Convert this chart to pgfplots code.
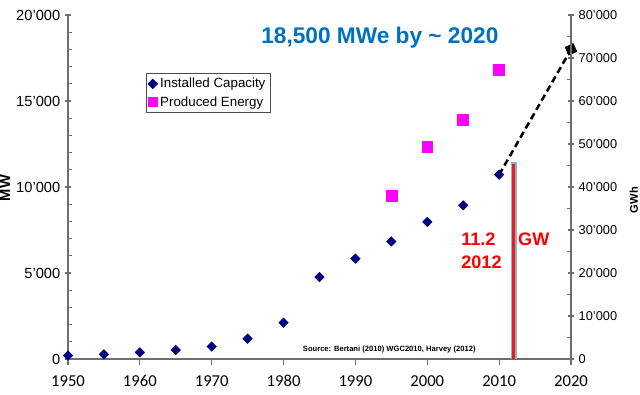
\documentclass[border=0pt]{standalone}
\usepackage{fontspec}
\setmainfont{Liberation Sans}
\newfontfamily\carlito{Carlito}
\usepackage{pgfplots}
\pgfplotsset{compat=1.18}
\definecolor{navyc}{RGB}{0,0,128}
\definecolor{magc}{RGB}{255,0,255}
\definecolor{titleblue}{RGB}{0,112,192}
\definecolor{axgray}{RGB}{110,110,110}
\definecolor{edgeblue}{RGB}{140,180,195}
\definecolor{redline}{RGB}{230,30,35}
\pgfplotsset{mylegimg/.style={legend image code/.code={\draw[mark repeat=1,##1] plot coordinates {(0.13cm,0cm)};}}}
\begin{document}
\begin{tikzpicture}
\path[use as bounding box] (-51pt,-27pt) rectangle (429pt,269.25pt);
\begin{axis}[
  scale only axis, width=377.25pt, height=258pt,
  xmin=1950, xmax=2020, ymin=0, ymax=20000,
  axis x line*=bottom, axis y line*=left,
  axis line style={axgray, line width=0.8pt},
  clip=false,
  scaled y ticks=false, scaled x ticks=false,
  /pgf/number format/assume math mode=true,
  xtick={1950,1960,...,2020},
  ytick={0,5000,...,20000}, minor y tick num=4,
  tick style={axgray, line width=0.8pt},
  tick align=center,
  major tick length=4.5pt, minor tick length=3pt,
  minor y tick style={xshift=1.5pt},
  major x tick style={yshift=-2.25pt},
  xticklabel style={font=\carlito\fontsize{12.5}{14}\selectfont, /pgf/number format/1000 sep={}, yshift=-6.5pt},
  yticklabel style={font=\fontsize{11}{12}\selectfont, /pgf/number format/1000 sep={'}, /pgf/number format/fixed},
  every axis y label/.style={at={(axis description cs:-0.1252,0.497)}, rotate=90, anchor=center, font=\bfseries\fontsize{11}{12}\selectfont},
  ylabel={MW},
  legend style={at={(0.1545,0.8314)}, anchor=north west, draw=black!70, line width=0.6pt,
    font=\fontsize{10}{11.5}\selectfont, inner sep=1.5pt, row sep=1pt, cells={anchor=west}},
]
\addplot[black, line width=1.9pt, dash pattern=on 5pt off 3pt, forget plot] coordinates {(2010,10715) (2020,18000)};
\addplot[only marks, mark=square*, mark size=3.3pt, mark options={rotate=25, fill=black, draw=black}, forget plot] coordinates {(2020,18000)};
\addplot[edgeblue, line width=4.5pt, forget plot] coordinates {(2012,0) (2012,11450)};
\addplot[redline, line width=1.6pt, forget plot] coordinates {(2012,0) (2012,11350)};
\addplot[only marks, mark=square*, mark size=2.5pt, mark options={rotate=45, fill=navyc, draw=navyc}, mylegimg] coordinates {
(1950,200) (1955,270) (1960,386) (1965,520) (1970,720) (1975,1180) (1980,2110)
(1985,4764) (1990,5834) (1995,6833) (2000,7972) (2005,8933) (2010,10715)};
\addlegendentry{Installed Capacity}
\addlegendimage{only marks, mark=square*, mark size=3.4pt, mark options={fill=magc, draw=magc}, mylegimg}
\addlegendentry{Produced Energy}
\node[anchor=base, text=titleblue, font=\bfseries\fontsize{17}{20}\selectfont] at (axis cs:1993.4,18314) {18,500 MWe by \textasciitilde{} 2020};
\node[anchor=base west, inner sep=0pt, text=red, font=\bfseries\fontsize{13.6}{16}\selectfont] at (axis cs:2004.69,6570) {11.2};
\node[anchor=base west, inner sep=0pt, text=red, font=\bfseries\fontsize{13.6}{16}\selectfont] at (axis cs:2004.69,5233) {2012};
\node[anchor=base west, inner sep=0pt, text=red, font=\bfseries\fontsize{13.6}{16}\selectfont] at (axis cs:2012.62,6570) {GW};
\node[anchor=base west, inner sep=0pt, font=\bfseries\fontsize{5.7}{7}\selectfont] at (axis cs:1982.66,407) {Source: Bertani (2010) WGC2010, Harvey (2012)};
\end{axis}
\begin{axis}[
  scale only axis, width=377.25pt, height=258pt,
  xmin=1950, xmax=2020, ymin=0, ymax=80000,
  axis x line=none, axis y line*=right,
  axis line style={axgray, line width=0.8pt},
  clip=false,
  scaled y ticks=false,
  /pgf/number format/assume math mode=true,
  ytick={0,10000,...,80000}, minor y tick num=1,
  tick style={axgray, line width=0.8pt},
  tick align=center,
  major tick length=4.5pt, minor tick length=3pt,
  minor y tick style={xshift=-1.5pt},
  yticklabel style={font=\fontsize{9.6}{11}\selectfont, /pgf/number format/1000 sep={'}, /pgf/number format/fixed},
  every axis y label/.style={at={(axis description cs:1.1252,0.462)}, rotate=90, anchor=center, font=\bfseries\fontsize{8.4}{10}\selectfont},
  ylabel={GWh},
]
\addplot[only marks, mark=square*, mark size=4.1pt, mark options={fill=magc, draw=magc}] coordinates {
(1995,38035) (2000,49261) (2005,55709) (2010,67246)};
\end{axis}
\end{tikzpicture}
\end{document}
